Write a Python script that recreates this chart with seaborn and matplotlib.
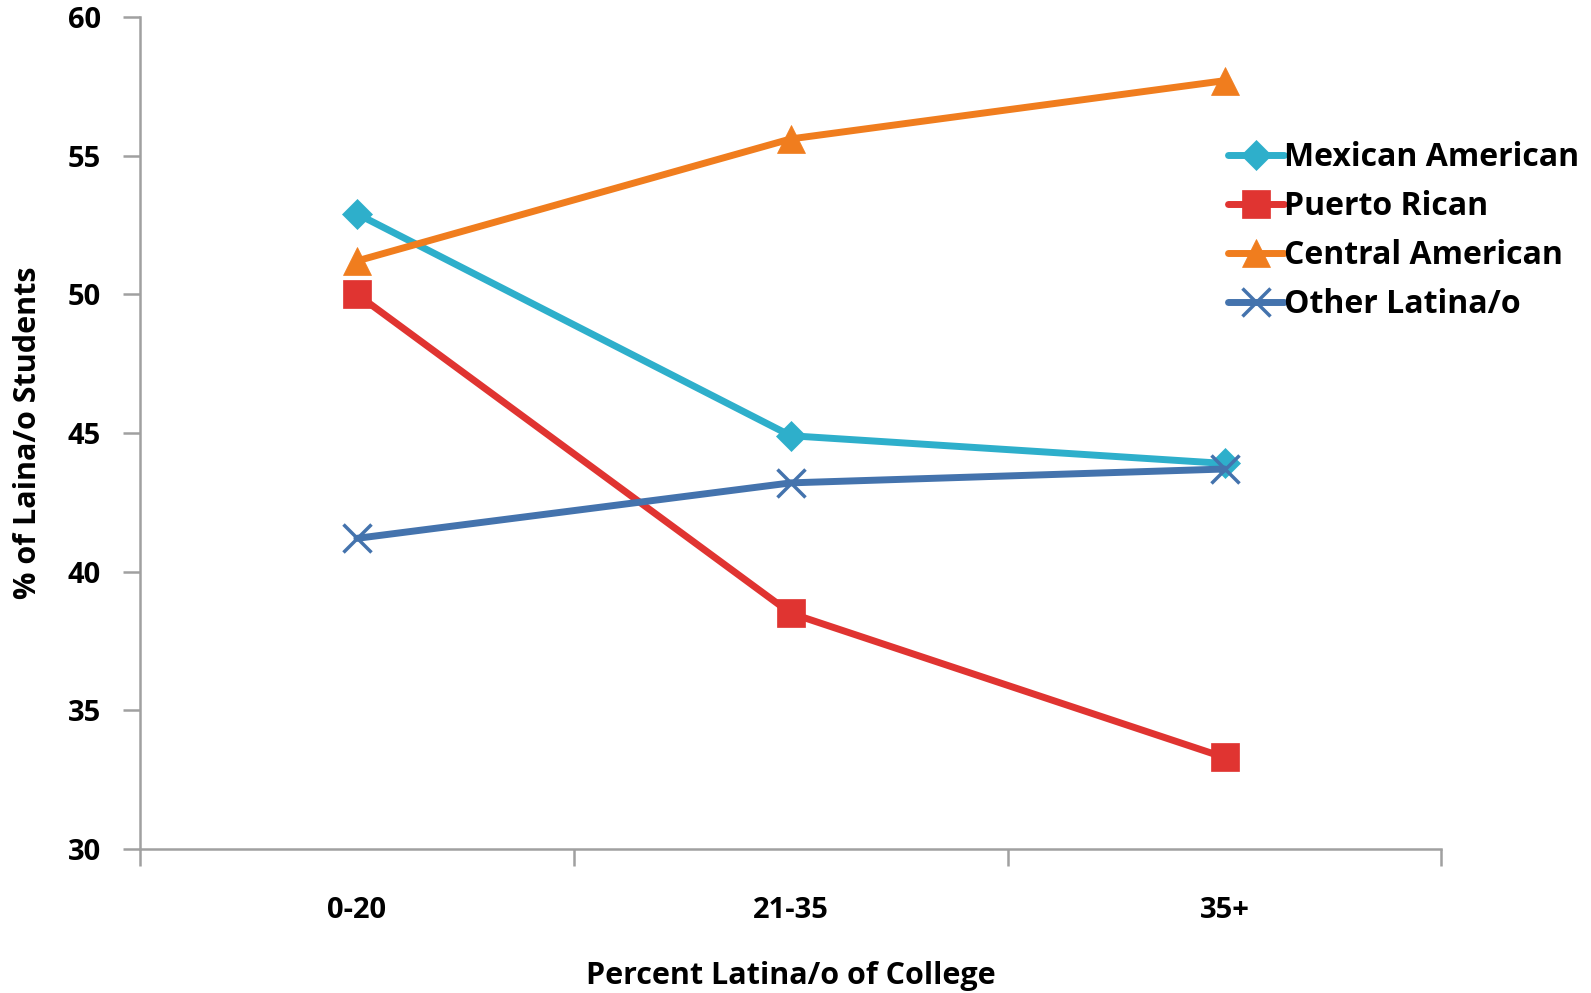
import matplotlib
matplotlib.use("Agg")
import matplotlib.pyplot as plt
import seaborn as sns
import pandas as pd
from matplotlib.ticker import FixedLocator, NullFormatter, FixedFormatter

categories = ["0-20", "21-35", "35+"]
mexican_american = [52.9, 44.9, 43.9]
puerto_rican = [50.0, 38.5, 33.3]
central_american = [51.2, 55.6, 57.7]
other_latino = [41.2, 43.2, 43.7]

series_names = ["Mexican American", "Puerto Rican", "Central American", "Other Latina/o"]
series_values = [mexican_american, puerto_rican, central_american, other_latino]

colors = ["#2EAFCB", "#E03431", "#F07D1E", "#4473AD"]
markers = ["D", "s", "^", "x"]
marker_sizes = [15, 20, 20, 20]

sns.set_theme(style="white")
plt.rcParams["font.family"] = ["Open Sans", "DejaVu Sans"]
plt.rcParams["font.weight"] = "bold"
plt.rcParams["text.color"] = "black"
plt.rcParams["axes.labelcolor"] = "black"
plt.rcParams["xtick.color"] = "black"
plt.rcParams["ytick.color"] = "black"

rows = []
for name, vals in zip(series_names, series_values):
    for c, v in zip(categories, vals):
        rows.append({"group": c, "value": v, "series": name})
df = pd.DataFrame(rows)

fig = plt.figure(figsize=(15.91, 9.93), dpi=100)
ax = fig.add_axes([0.088, 0.145, 0.818, 0.838])

for name, col, mk, ms in zip(series_names, colors, markers, marker_sizes):
    sub = df[df["series"] == name]
    sns.lineplot(data=sub, x="group", y="value", ax=ax, color=col, linewidth=5,
                 marker=mk, markersize=ms, markeredgewidth=2.5 if mk == "x" else 0.5,
                 markeredgecolor=col, label=name, sort=False)

ax.set_xlim(-0.5, 2.5)
ax.set_ylim(30, 60)
ax.set_yticks([30, 35, 40, 45, 50, 55, 60])
ax.set_yticklabels(["30", "35", "40", "45", "50", "55", "60"], fontsize=21, fontweight="bold")

ax.xaxis.set_major_locator(FixedLocator([-0.5, 0.5, 1.5, 2.5]))
ax.xaxis.set_major_formatter(NullFormatter())
ax.xaxis.set_minor_locator(FixedLocator([0, 1, 2]))
ax.xaxis.set_minor_formatter(FixedFormatter(categories))
ax.tick_params(axis="x", which="major", length=12, width=1.8, color="#A0A0A0", direction="out", bottom=True)
ax.tick_params(axis="x", which="minor", length=0, pad=34, labelsize=21, bottom=True)
for lbl in ax.get_xticklabels(minor=True):
    lbl.set_fontweight("bold")
ax.tick_params(axis="y", length=12, width=1.8, color="#A0A0A0", direction="out", left=True, pad=16)

for side in ["top", "right"]:
    ax.spines[side].set_visible(False)
for side in ["left", "bottom"]:
    ax.spines[side].set_color("#A0A0A0")
    ax.spines[side].set_linewidth(1.8)

ax.set_xlabel("Percent Latina/o of College", fontsize=22, fontweight="bold", labelpad=26)
ax.set_ylabel("% of Laina/o Students", fontsize=22, fontweight="bold", labelpad=18)

leg = ax.legend(loc="upper left", bbox_to_anchor=(0.772, 0.858), bbox_transform=fig.transFigure,
                frameon=False, fontsize=23, handlelength=1.75, handletextpad=0.0,
                labelspacing=0.5, borderaxespad=0, borderpad=0)
for t in leg.get_texts():
    t.set_fontweight("bold")

fig.savefig("out.png", dpi=100)
